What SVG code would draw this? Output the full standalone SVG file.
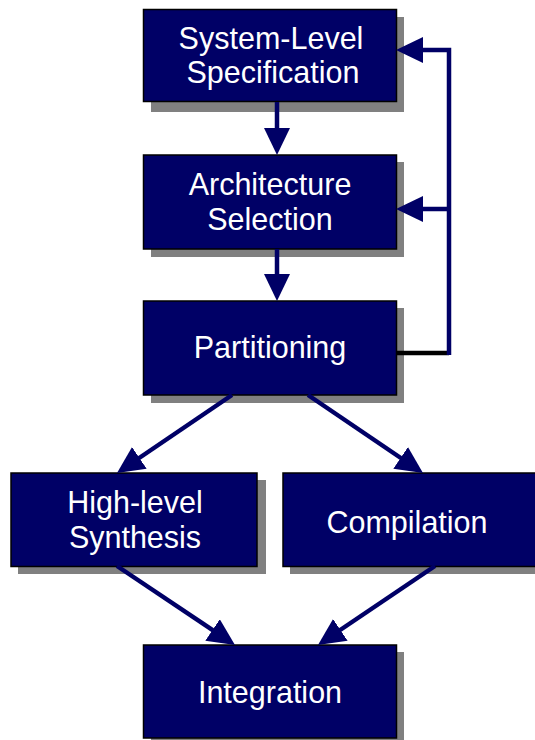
<svg xmlns="http://www.w3.org/2000/svg" width="535" height="740" viewBox="0 0 535 740">
  <style>
    .shadow { fill: #808080; }
    .box { fill: #000066; stroke: #000000; stroke-width: 1.5; }
    .label { fill: #ffffff; font-family: "Liberation Sans", Arial, sans-serif; font-size: 30.5px; text-anchor: middle; }
    .wire { fill: none; stroke: #000066; stroke-width: 4.5; }
    .wire-black { fill: none; stroke: #000000; stroke-width: 4.5; }
  </style>
  <defs>
    <marker id="head" markerUnits="userSpaceOnUse" markerWidth="28" markerHeight="27" refX="2" refY="13" orient="auto">
      <path d="M0,0 L27,13 L0,26 Z" fill="#000066"/>
    </marker>
  </defs>
  <rect width="535" height="740" fill="#ffffff"/>

  <g id="spec">
    <rect class="shadow" x="151" y="17" width="253" height="95"/>
    <rect class="box" x="143.5" y="9.5" width="253" height="92"/>
    <text class="label" x="271" y="49">System-Level</text>
    <text class="label" x="273" y="83">Specification</text>
  </g>

  <g id="arch">
    <rect class="shadow" x="151" y="162" width="253" height="95"/>
    <rect class="box" x="143.5" y="155" width="253" height="94"/>
    <text class="label" x="270" y="195">Architecture</text>
    <text class="label" x="270" y="230">Selection</text>
  </g>

  <g id="part">
    <rect class="shadow" x="151" y="308" width="253" height="95"/>
    <rect class="box" x="143.5" y="301" width="253" height="94"/>
    <text class="label" x="270" y="358">Partitioning</text>
  </g>

  <g id="hls">
    <rect class="shadow" x="18" y="480" width="248" height="94"/>
    <rect class="box" x="11" y="473" width="246" height="93.5"/>
    <text class="label" x="135" y="513">High-level</text>
    <text class="label" x="135" y="548">Synthesis</text>
  </g>

  <g id="comp">
    <rect class="shadow" x="290" y="480" width="260" height="94"/>
    <rect class="box" x="283" y="473" width="260" height="93.5"/>
    <text class="label" x="407" y="533">Compilation</text>
  </g>

  <g id="integ">
    <rect class="shadow" x="151" y="652" width="253" height="95"/>
    <rect class="box" x="143.5" y="645" width="253" height="93"/>
    <text class="label" x="270" y="703">Integration</text>
  </g>

  <g id="connectors">
    <path class="wire" d="M277,102 V130" marker-end="url(#head)"/>
    <path class="wire" d="M277,249 V276" marker-end="url(#head)"/>
    <path class="wire-black" d="M397,353 H449"/>
    <path class="wire" d="M449,355 V50 H421" marker-end="url(#head)"/>
    <path class="wire" d="M449,209 H421" marker-end="url(#head)"/>
    <path class="wire" d="M232,395 L137.7,459" marker-end="url(#head)"/>
    <path class="wire" d="M308,395 L402.3,459" marker-end="url(#head)"/>
    <path class="wire" d="M117,566 L214.2,631.1" marker-end="url(#head)"/>
    <path class="wire" d="M435,566 L338.7,631" marker-end="url(#head)"/>
  </g>
</svg>
